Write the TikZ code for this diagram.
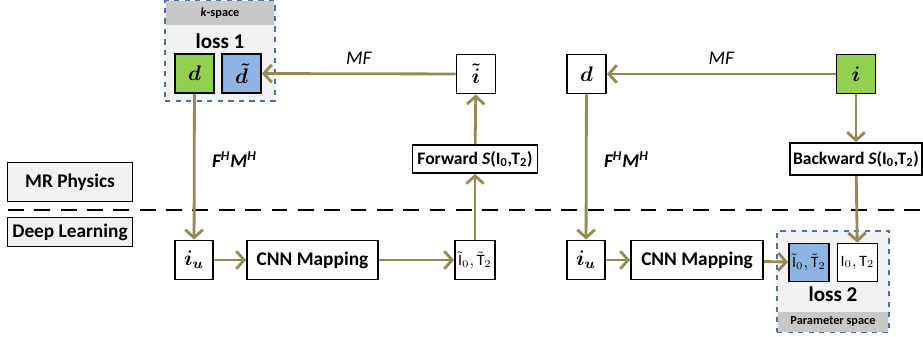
\documentclass[tikz,border=0pt]{standalone}
\usepackage{fontspec}
\setmainfont{Carlito}
\usepackage{amsmath}
\usetikzlibrary{positioning, arrows.meta}

\definecolor{flowolive}{RGB}{148,138,84}
\definecolor{boxgreen}{RGB}{146,208,80}
\definecolor{boxblue}{RGB}{141,180,226}
\definecolor{regionblue}{RGB}{79,112,160}
\definecolor{regionfill}{RGB}{242,242,242}
\definecolor{bandgray}{RGB}{200,200,200}

\begin{document}
\begin{tikzpicture}[
        x=0.02cm, y=-0.02cm,
        >={Straight Barb[length=4.5pt,width=10pt]},
        flow/.style={->, draw=flowolive, line width=1.6pt},
        var/.style={draw, line width=1.1pt, fill=white, minimum width=0.78cm, minimum height=0.78cm, inner sep=0pt, font=\large\boldmath},
        stepbox/.style={draw, line width=1.1pt, fill=white, minimum height=0.78cm, inner sep=2pt, font=\fontsize{11}{13}\selectfont\bfseries},
        param/.style={draw, line width=1.1pt, minimum width=0.8cm, minimum height=0.76cm, inner sep=0pt, font=\small},
        fieldbox/.style={draw, line width=1pt, fill=regionfill, minimum width=2.5cm, inner sep=0pt, font=\fontsize{11}{13}\selectfont\bfseries},
        region/.style={draw=regionblue, dashed, line width=1.1pt, fill=regionfill, inner sep=0pt},
        band/.style={fill=bandgray, inner sep=0pt, font=\scriptsize\bfseries},
    ]
        \useasboundingbox (0,0) rectangle (923,336);

        % Draw the two dashed regions (k-space and parameter space)
        \node[region, minimum width=2.2cm, minimum height=2cm] (kregion) at (220,51) {};
        \node[band, minimum width=2.16cm, minimum height=0.48cm, below=0.02cm of kregion.north] (kband) {\textit{k}-space};
        \node[font=\fontsize{12}{14}\selectfont\bfseries] (loss1) at (220,41) {loss 1};

        \node[region, minimum width=2.24cm, minimum height=2.02cm] (pregion) at (833,281.5) {};
        \node[band, minimum width=2.2cm, minimum height=0.4cm, above=0.02cm of pregion.south] (pband) {Parameter space};
        \node[font=\fontsize{12}{14}\selectfont\bfseries] (loss2) at (833,294) {loss 2};

        % Draw the domain labels and the separating line
        \node[fieldbox, minimum height=0.78cm] (mr) at (70,182) {MR Physics};
        \node[fieldbox, minimum height=0.58cm] (dl) at (70,232) {Deep Learning};
        \coordinate (sep-l) at (8,210);
        \coordinate (sep-r) at (921,210);
        \draw[dashed, line width=1.3pt, dash pattern=on 9pt off 6pt] (sep-l) -- (sep-r);

        % Draw the left pipeline nodes
        \node[var, fill=boxgreen] (d1) at (194.5,73.5) {$d$};
        \node[var, fill=boxblue] (dt1) at (241.5,73.5) {$\tilde{d}$};
        \node[var] (it1) at (476,74) {$\tilde{i}$};
        \node[stepbox, minimum width=2.5cm, minimum height=0.56cm, font=\fontsize{10}{12}\selectfont\bfseries] (fwd) at (475,159) {Forward \textit{S}(I\textsubscript{0},T\textsubscript{2})};
        \node[var, minimum width=0.76cm] (iu1) at (194,260) {$i_u$};
        \node[stepbox, minimum width=2.62cm] (cnn1) at (312.5,260) {CNN Mapping};
        \node[param, minimum height=0.78cm, fill=white] (tt1) at (475,260) {$\tilde{\mathrm{I}}_0,\tilde{\mathrm{T}}_2$};

        % Draw the right pipeline nodes
        \node[var] (d2) at (586.5,74) {$d$};
        \node[var, fill=boxgreen] (i2) at (856,74) {$i$};
        \node[stepbox, minimum width=2.44cm, minimum height=0.64cm, font=\fontsize{10}{12}\selectfont\bfseries] (bwd) at (856,159) {Backward \textit{S}(I\textsubscript{0},T\textsubscript{2})};
        \node[var, minimum width=0.76cm] (iu2) at (586,260) {$i_u$};
        \node[stepbox, minimum width=2.64cm] (cnn2) at (697,260) {CNN Mapping};
        \node[param, fill=boxblue] (tb2) at (809,262.5) {$\tilde{\mathrm{I}}_0,\tilde{\mathrm{T}}_2$};
        \node[param, fill=white] (tw2) at (857.5,262.5) {$\mathrm{I}_0,\mathrm{T}_2$};

        % Connect the left pipeline
        \path (it1) edge[flow] node[above=1pt, font=\itshape\fontsize{11}{13}\selectfont] {MF} (dt1);
        \path (d1) edge[flow] node[right=6pt, pos=0.45, font=\bfseries\itshape\fontsize{11}{13}\selectfont] {F\textsuperscript{H}M\textsuperscript{H}} (iu1);
        \path (iu1) edge[flow] (cnn1);
        \path (cnn1) edge[flow] (tt1);
        \path (tt1) edge[flow] (fwd);
        \path (fwd) edge[flow] (it1);

        % Connect the right pipeline
        \path (i2) edge[flow] node[above=1pt, font=\itshape\fontsize{11}{13}\selectfont] {MF} (d2);
        \path (d2) edge[flow] node[right=6pt, pos=0.45, font=\bfseries\itshape\fontsize{11}{13}\selectfont] {F\textsuperscript{H}M\textsuperscript{H}} (iu2);
        \path (iu2) edge[flow] (cnn2);
        \path (cnn2) edge[flow] (tb2);
        \path (i2) edge[flow] (bwd);
        \path (bwd) edge[flow] (tw2);
\end{tikzpicture}
\end{document}
